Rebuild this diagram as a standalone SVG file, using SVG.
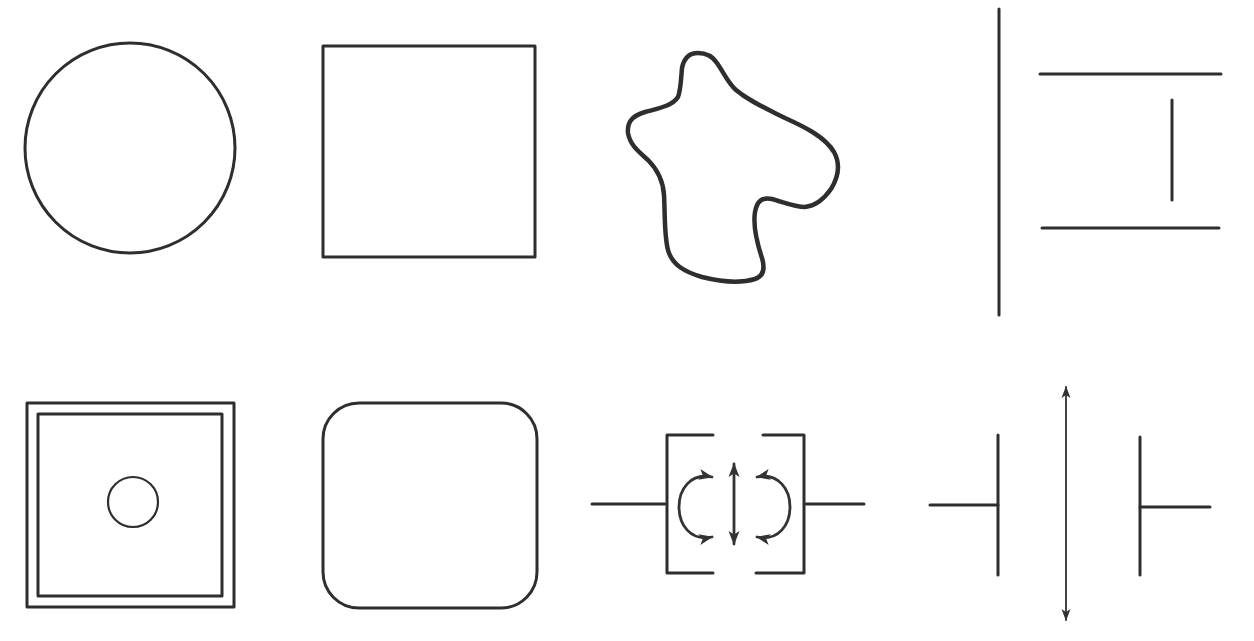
<svg xmlns="http://www.w3.org/2000/svg" width="1254" height="641" viewBox="0 0 1254 641">
<defs>
<style>
.s{fill:none;stroke:#2e2e2e;stroke-width:3;stroke-linecap:round;stroke-linejoin:round}
.t{fill:none;stroke:#2e2e2e;stroke-width:2.2;stroke-linecap:round}
.a{fill:none;stroke:#444;stroke-width:2;stroke-linecap:round}
.b{fill:none;stroke:#333;stroke-width:2.8;stroke-linecap:round}
</style>
<marker id="ah" viewBox="0 0 12 10" refX="11" refY="5" markerWidth="12" markerHeight="10" markerUnits="userSpaceOnUse" orient="auto-start-reverse">
<path d="M0,0.5 L12,5 L0,9.5 L3,5 Z" fill="#333"/>
</marker>
<marker id="bh" viewBox="0 0 14 12" refX="13" refY="6" markerWidth="14" markerHeight="12" markerUnits="userSpaceOnUse" orient="auto-start-reverse">
<path d="M0,0.5 L14,6 L0,11.5 L3.5,6 Z" fill="#333"/>
</marker>
</defs>
<rect width="1254" height="641" fill="#ffffff"/>
<g id="circle"><circle class="s" cx="130" cy="148" r="105"/></g>
<g id="square"><rect class="s" x="323" y="46" width="212" height="211"/></g>
<g id="blob"><path class="s" style="stroke-width:4.5" d="M698,53 C708,53 713,57 717,63 C724,73 728,83 736,90 C749,101 765,108 785,118 C805,127 825,137 834,152 C840,163 839,176 831,189 C824,199 815,206 805,207 C795,207 783,202 772,199 C762,197 757,201 755,212 C753,225 757,243 762,258 C765,268 764,276 755,279 C742,283 722,282 702,277 C685,272 672,265 668,250 C664,235 665,210 664,195 C663,180 658,170 648,160 C638,151 630,145 628,133 C627,122 632,116 645,112 C660,108 672,106 678,97 C681,89 681,78 682,68 C684,58 689,53 698,53 Z"/></g>
<g id="walls">
<line class="s" x1="999" y1="9" x2="999" y2="315"/>
<line class="s" x1="1040" y1="74" x2="1221" y2="74"/>
<line class="s" x1="1172" y1="100" x2="1172" y2="200"/>
<line class="s" x1="1042" y1="228" x2="1219" y2="228"/>
</g>
<g id="double-square">
<rect class="s" x="27" y="403" width="207" height="204"/>
<rect class="s" x="38" y="414" width="184" height="182"/>
<circle class="t" cx="133" cy="502" r="25"/>
</g>
<g id="rounded-square"><rect class="s" x="323" y="403" width="214" height="205" rx="36"/></g>
<g id="exchange">
<line class="s" x1="592" y1="504" x2="665" y2="504"/>
<path class="s" d="M713,435 H667 V573 H713"/>
<path class="s" d="M763,435 H804 V573 H756"/>
<line class="s" x1="806" y1="504" x2="864" y2="504"/>
</g>
<g id="connectors">
<line class="b" x1="734" y1="464" x2="734" y2="544" marker-start="url(#bh)" marker-end="url(#bh)"/>
<path class="b" d="M712,477 C668,468 668,546 712,537" marker-start="url(#bh)" marker-end="url(#bh)"/>
<path class="b" d="M757,477 C801,468 801,546 757,537" marker-start="url(#bh)" marker-end="url(#bh)"/>
<line class="a" x1="1066" y1="387" x2="1066" y2="620" marker-start="url(#ah)" marker-end="url(#ah)"/>
</g>
<g id="plates">
<line class="s" x1="930" y1="505" x2="998" y2="505"/>
<line class="s" x1="998" y1="435" x2="998" y2="575"/>
<line class="s" x1="1140" y1="437" x2="1140" y2="575"/>
<line class="s" x1="1140" y1="507" x2="1210" y2="507"/>
</g>
</svg>
